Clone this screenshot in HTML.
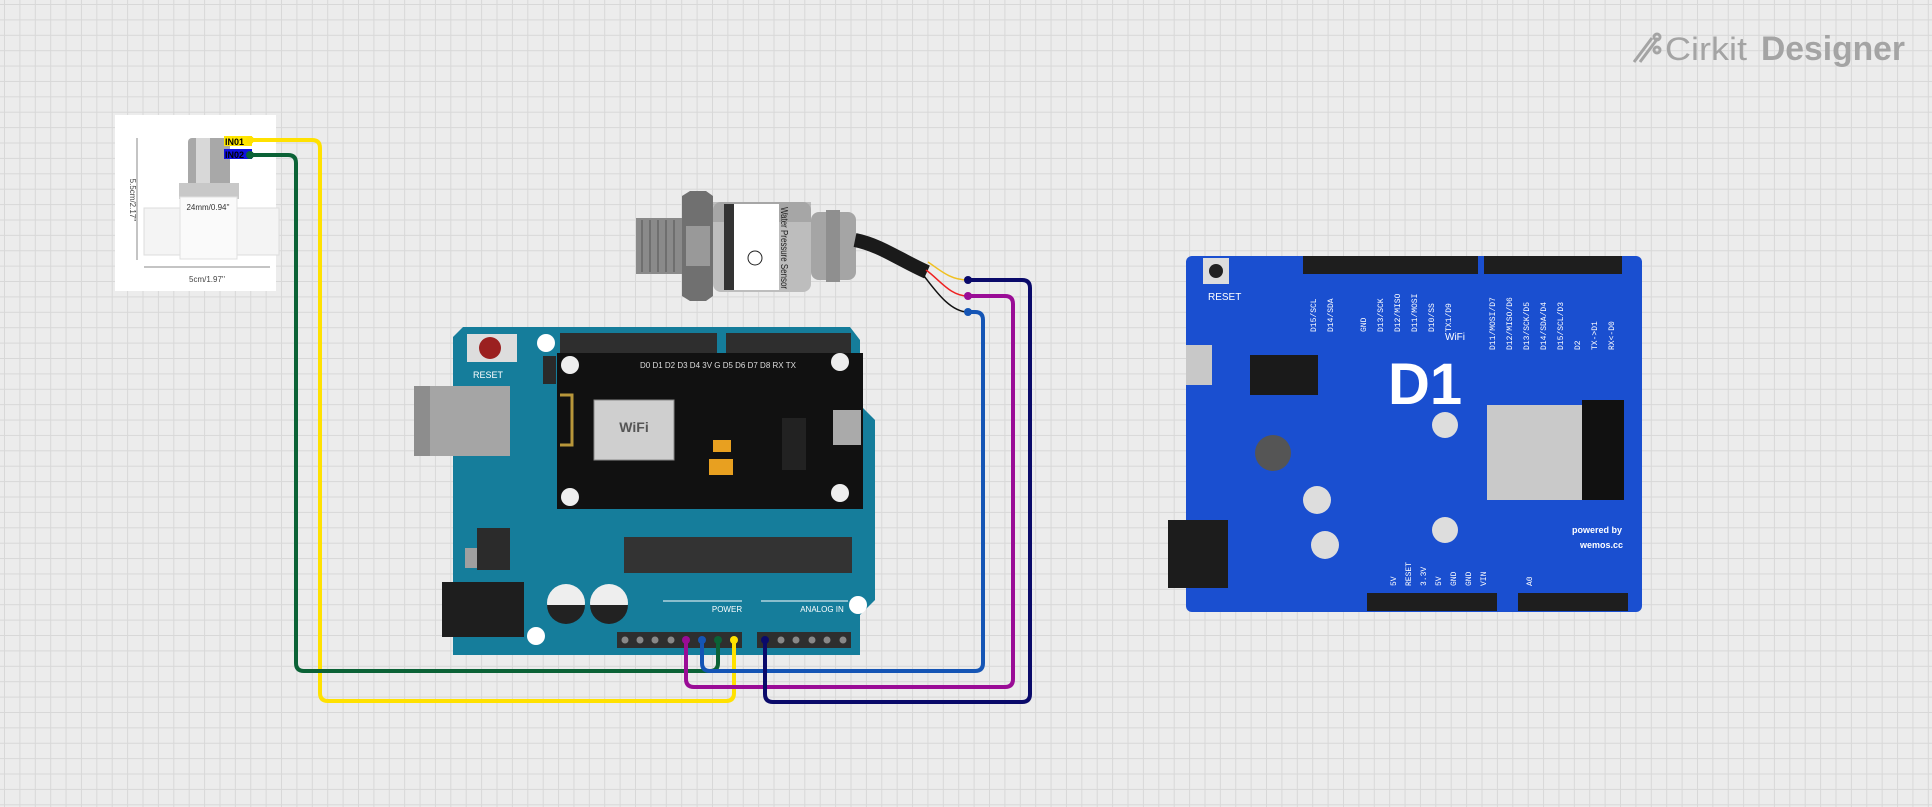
<!DOCTYPE html>
<html><head><meta charset="utf-8"><style>
html,body{margin:0;padding:0}
body{width:1932px;height:807px;overflow:hidden;background-color:#ececec;
background-image:linear-gradient(#d8d8d8 1px,transparent 1px),linear-gradient(90deg,#d8d8d8 1px,transparent 1px);
background-size:15.4px 15.4px;background-position:4px 4px;position:relative;font-family:"Liberation Sans",sans-serif}
svg{position:absolute;left:0;top:0}
</style></head><body>
<svg width="1932" height="807" viewBox="0 0 1932 807" xmlns="http://www.w3.org/2000/svg" font-family="Liberation Sans, sans-serif">
<!-- logo -->
<g fill="#a4a4a4">
<g stroke="#a4a4a4" stroke-width="3" fill="none"><line x1="1634" y1="62" x2="1652" y2="38"/><line x1="1640" y1="62" x2="1658" y2="38"/><circle cx="1657" cy="37" r="3"/><circle cx="1657" cy="50" r="3"/></g>
<text x="1665" y="60" font-size="32" textLength="82" lengthAdjust="spacingAndGlyphs">Cirkit</text>
<text x="1761" y="60" font-size="34" font-weight="bold" textLength="144" lengthAdjust="spacingAndGlyphs">Designer</text>
</g>

<!-- solenoid valve -->
<rect x="115" y="115" width="161" height="176" fill="#fff"/>
<line x1="137" y1="138" x2="137" y2="260" stroke="#888"/><line x1="144" y1="267" x2="270" y2="267" stroke="#888"/>
<text x="130" y="200" font-size="8" fill="#444" transform="rotate(90 130 200)" text-anchor="middle">5.5cm/2.17''</text>
<text x="207" y="282" font-size="8" fill="#444" text-anchor="middle">5cm/1.97''</text>
<rect x="188" y="138" width="42" height="50" rx="4" fill="#a8a8a8"/><rect x="196" y="138" width="14" height="50" fill="#d8d8d8"/>
<rect x="179" y="183" width="60" height="16" fill="#c8c8c8"/>
<rect x="144" y="208" width="135" height="47" fill="#f4f4f4" stroke="#ddd"/>
<rect x="180" y="197" width="57" height="62" fill="#fafafa" stroke="#e0e0e0"/>
<text x="208" y="210" font-size="8" fill="#333" text-anchor="middle">24mm/0.94''</text>
<rect x="224" y="136" width="28" height="10" fill="#ffe600"/><text x="225" y="145" font-size="9" font-weight="bold">IN01</text>
<rect x="224" y="149" width="28" height="10" fill="#1010e0"/><text x="225" y="158" font-size="9" font-weight="bold">IN02</text>

<!-- pressure sensor -->
<rect x="636" y="218" width="46" height="56" fill="#8a8a8a"/>
<g stroke="#666" stroke-width="1.5"><line x1="642" y1="220" x2="642" y2="272"/><line x1="650" y1="220" x2="650" y2="272"/><line x1="658" y1="220" x2="658" y2="272"/><line x1="666" y1="220" x2="666" y2="272"/><line x1="674" y1="220" x2="674" y2="272"/></g>
<path d="M682 196 L690 191 L706 191 L713 196 L713 296 L706 301 L690 301 L682 296Z" fill="#707070"/>
<rect x="686" y="226" width="24" height="40" fill="#999"/>
<rect x="713" y="202" width="98" height="90" rx="8" fill="#bdbdbd"/>
<rect x="713" y="202" width="98" height="20" fill="#909090" opacity=".5"/>
<rect x="733" y="204" width="46" height="86" fill="#fff"/>
<rect x="724" y="204" width="10" height="86" fill="#333"/>
<text x="781" y="207" font-size="10" fill="#222" transform="rotate(90 781 207)" textLength="82" lengthAdjust="spacingAndGlyphs">Water Pressure Sensor</text>
<circle cx="755" cy="258" r="7" fill="none" stroke="#222"/>
<rect x="811" y="212" width="45" height="68" rx="8" fill="#a5a5a5"/><rect x="826" y="210" width="14" height="72" fill="#8f8f8f"/>
<path d="M855 240 C880 245 900 260 927 272" stroke="#1a1a1a" stroke-width="14" fill="none"/>
<path d="M928 262 C940 270 950 280 968 280" stroke="#f0c020" stroke-width="1.5" fill="none"/>
<path d="M926 270 C940 280 950 296 968 296" stroke="#ee2222" stroke-width="1.5" fill="none"/>
<path d="M924 276 C935 290 950 312 968 312" stroke="#111" stroke-width="1.5" fill="none"/>

<!-- Arduino -->
<path d="M463 327 L850 327 L860 340 L860 405 L875 420 L875 600 L860 615 L860 655 L453 655 L453 337Z" fill="#157d9b"/>
<rect x="414" y="386" width="96" height="70" fill="#a5a5a5"/><rect x="414" y="386" width="16" height="70" fill="#8d8d8d"/>
<rect x="467" y="334" width="50" height="28" fill="#ddd"/><circle cx="490" cy="348" r="11" fill="#9b2020"/>
<text x="488" y="378" font-size="9" fill="#fff" text-anchor="middle">RESET</text>
<circle cx="546" cy="343" r="9" fill="#fff"/><circle cx="536" cy="636" r="9" fill="#fff"/><circle cx="858" cy="605" r="9" fill="#fff"/>
<rect x="560" y="333" width="157" height="20" fill="#2e2e2e"/><rect x="726" y="333" width="125" height="20" fill="#2e2e2e"/>
<rect x="543" y="356" width="13" height="28" fill="#2a2a2a"/>
<rect x="557" y="353" width="306" height="156" fill="#111"/>
<rect x="594" y="400" width="80" height="60" fill="#cfcfcf" stroke="#888"/>
<text x="634" y="432" font-size="14" font-weight="bold" fill="#555" text-anchor="middle">WiFi</text>
<path d="M560 395 h12 v50 h-12" stroke="#b8963a" stroke-width="3" fill="none"/>
<rect x="782" y="418" width="24" height="52" fill="#222"/>
<rect x="833" y="410" width="28" height="35" fill="#aaa"/>
<circle cx="570" cy="365" r="9" fill="#eee"/><circle cx="840" cy="362" r="9" fill="#eee"/><circle cx="570" cy="497" r="9" fill="#eee"/><circle cx="840" cy="493" r="9" fill="#eee"/>
<rect x="713" y="440" width="18" height="12" fill="#e8a020"/><rect x="709" y="459" width="24" height="16" fill="#e8a020"/>
<text x="640" y="368" font-size="8" fill="#ddd">D0  D1  D2  D3  D4  3V  G  D5  D6  D7  D8  RX  TX</text>
<rect x="624" y="537" width="228" height="36" fill="#333"/>
<rect x="477" y="528" width="33" height="42" fill="#2b2b2b"/><rect x="465" y="548" width="12" height="20" fill="#a0a0a0"/>
<rect x="442" y="582" width="82" height="55" fill="#1e1e1e"/>
<circle cx="566" cy="603" r="19" fill="#eee"/><path d="M547 605 a19 19 0 0 0 38 0z" fill="#222"/>
<circle cx="609" cy="603" r="19" fill="#eee"/><path d="M590 605 a19 19 0 0 0 38 0z" fill="#222"/>
<line x1="663" y1="601" x2="742" y2="601" stroke="#fff"/><line x1="761" y1="601" x2="848" y2="601" stroke="#fff"/>
<text x="727" y="612" font-size="8" fill="#fff" text-anchor="middle">POWER</text>
<text x="822" y="612" font-size="8" fill="#fff" text-anchor="middle">ANALOG IN</text>
<rect x="617" y="632" width="125" height="16" fill="#2e2e2e"/><rect x="757" y="632" width="94" height="16" fill="#2e2e2e"/>
<g fill="#888"><circle cx="625" cy="640" r="3.5"/><circle cx="640" cy="640" r="3.5"/><circle cx="655" cy="640" r="3.5"/><circle cx="671" cy="640" r="3.5"/><circle cx="781" cy="640" r="3.5"/><circle cx="796" cy="640" r="3.5"/><circle cx="812" cy="640" r="3.5"/><circle cx="827" cy="640" r="3.5"/><circle cx="843" cy="640" r="3.5"/></g>

<!-- D1 board -->
<rect x="1186" y="256" width="456" height="356" rx="6" fill="#1a4fd0"/>
<rect x="1168" y="520" width="60" height="68" fill="#1c1c1c"/>
<rect x="1303" y="256" width="175" height="18" fill="#1e1e1e"/><rect x="1484" y="256" width="138" height="18" fill="#1e1e1e"/>
<rect x="1367" y="593" width="130" height="18" fill="#1e1e1e"/><rect x="1518" y="593" width="110" height="18" fill="#1e1e1e"/>
<rect x="1203" y="258" width="26" height="26" fill="#ddd"/><circle cx="1216" cy="271" r="7" fill="#222"/>
<text x="1208" y="300" font-size="10" fill="#fff">RESET</text>
<rect x="1250" y="355" width="68" height="40" fill="#1a1a1a"/>
<text x="1388" y="404" font-size="58" font-weight="bold" fill="#fff">D1</text>
<text x="1445" y="340" font-size="10" fill="#fff">WiFi</text>
<g fill="#fff" font-size="8" font-family="Liberation Mono, monospace">
<text transform="translate(1316,332) rotate(-90)">D15/SCL</text><text transform="translate(1333,332) rotate(-90)">D14/SDA</text>
<text transform="translate(1366,332) rotate(-90)">GND</text><text transform="translate(1383,332) rotate(-90)">D13/SCK</text>
<text transform="translate(1400,332) rotate(-90)">D12/MISO</text><text transform="translate(1417,332) rotate(-90)">D11/MOSI</text>
<text transform="translate(1434,332) rotate(-90)">D10/SS</text><text transform="translate(1451,332) rotate(-90)">TX1/D9</text>
<text transform="translate(1495,350) rotate(-90)">D11/MOSI/D7</text><text transform="translate(1512,350) rotate(-90)">D12/MISO/D6</text>
<text transform="translate(1529,350) rotate(-90)">D13/SCK/D5</text><text transform="translate(1546,350) rotate(-90)">D14/SDA/D4</text>
<text transform="translate(1563,350) rotate(-90)">D15/SCL/D3</text><text transform="translate(1580,350) rotate(-90)">D2</text>
<text transform="translate(1597,350) rotate(-90)">TX-&gt;D1</text><text transform="translate(1614,350) rotate(-90)">RX&lt;-D0</text>
<text transform="translate(1396,586) rotate(-90)">5V</text><text transform="translate(1411,586) rotate(-90)">RESET</text>
<text transform="translate(1426,586) rotate(-90)">3.3V</text><text transform="translate(1441,586) rotate(-90)">5V</text>
<text transform="translate(1456,586) rotate(-90)">GND</text><text transform="translate(1471,586) rotate(-90)">GND</text>
<text transform="translate(1486,586) rotate(-90)">VIN</text><text transform="translate(1532,586) rotate(-90)">A0</text>
</g>
<rect x="1487" y="405" width="95" height="95" fill="#c9c9c9"/>
<rect x="1582" y="400" width="42" height="100" fill="#111"/>
<circle cx="1273" cy="453" r="18" fill="#555"/>
<rect x="1186" y="345" width="26" height="40" fill="#c8c8c8"/>
<text x="1572" y="533" font-size="9" fill="#fff" font-weight="bold">powered by</text>
<text x="1580" y="548" font-size="9" fill="#fff" font-weight="bold">wemos.cc</text>
<circle cx="1317" cy="500" r="14" fill="#ddd"/><circle cx="1325" cy="545" r="14" fill="#ddd"/><circle cx="1445" cy="530" r="13" fill="#ddd"/><circle cx="1445" cy="425" r="13" fill="#ddd"/>

<!-- wires -->
<g fill="none" stroke-width="4" stroke-linejoin="round">
<path d="M250 140 H312 Q320 140 320 148 V693 Q320 701 328 701 H726 Q734 701 734 693 V640" stroke="#ffe100"/>
<path d="M250 155 H288 Q296 155 296 163 V663 Q296 671 304 671 H710 Q718 671 718 663 V640" stroke="#0b6236"/>
<path d="M702 640 V663 Q702 671 710 671 H975 Q983 671 983 663 V320 Q983 312 975 312 H968" stroke="#1555b5"/>
<path d="M686 640 V679 Q686 687 694 687 H1005 Q1013 687 1013 679 V304 Q1013 296 1005 296 H968" stroke="#9a0c96"/>
<path d="M765 640 V694 Q765 702 773 702 H1022 Q1030 702 1030 694 V288 Q1030 280 1022 280 H968" stroke="#0a0a6a"/>
</g>
<circle cx="250" cy="140" r="4" fill="#ffe100"/><circle cx="250" cy="155" r="4" fill="#0b6236"/>
<circle cx="968" cy="280" r="4" fill="#0a0a6a"/><circle cx="968" cy="296" r="4" fill="#9a0c96"/><circle cx="968" cy="312" r="4" fill="#1555b5"/>
<circle cx="734" cy="640" r="4" fill="#ffe100"/><circle cx="718" cy="640" r="4" fill="#0b6236"/><circle cx="702" cy="640" r="4" fill="#1555b5"/><circle cx="686" cy="640" r="4" fill="#9a0c96"/><circle cx="765" cy="640" r="4" fill="#0a0a6a"/>
</svg>
</body></html>
